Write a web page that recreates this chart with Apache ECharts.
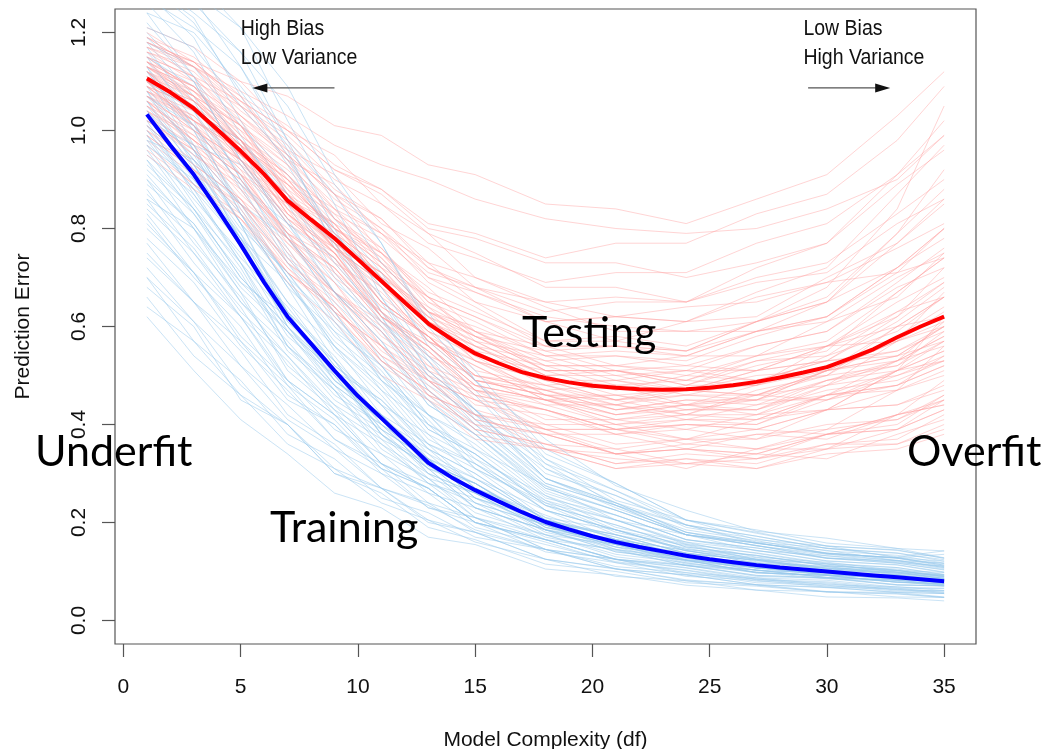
<!DOCTYPE html>
<html>
<head>
<meta charset="utf-8">
<script src="https://cdn.jsdelivr.net/npm/echarts@6/dist/echarts.min.js"></script>
<style>
  html, body { margin: 0; padding: 0; background: #fff; }
  #chart { width: 1047px; height: 749px; }
</style>
</head>
<body>
<div id="chart"></div>
<script>
// Degrees of freedom at which each individual run is recorded
const dfGrid = [1, 3, 5, 7, 9, 11, 13, 15, 18, 21, 24, 27, 30, 33, 35];

// Training error of individual runs (light blue)
const trainRuns = [
  [1.04,0.93,0.76,0.63,0.50,0.42,0.32,0.28,0.19,0.165,0.13,0.112,0.10,0.09,0.08],
  [0.88,0.75,0.64,0.49,0.42,0.32,0.27,0.20,0.165,0.125,0.112,0.092,0.087,0.073,0.07],
  [1.22,1.11,0.93,0.79,0.64,0.54,0.42,0.36,0.25,0.215,0.165,0.148,0.127,0.117,0.104],
  [0.96,0.83,0.71,0.55,0.47,0.36,0.30,0.23,0.185,0.145,0.123,0.098,0.092,0.078,0.075],
  [1.12,1.01,0.84,0.70,0.56,0.47,0.36,0.31,0.21,0.185,0.145,0.128,0.107,0.102,0.09],
  [0.70,0.57,0.49,0.38,0.33,0.25,0.22,0.17,0.145,0.105,0.093,0.073,0.067,0.058,0.055],
  [1.30,1.23,1.07,0.93,0.77,0.65,0.51,0.43,0.30,0.255,0.195,0.172,0.147,0.137,0.124],
  [1.00,0.88,0.77,0.61,0.53,0.41,0.35,0.27,0.215,0.165,0.143,0.117,0.107,0.093,0.086],
  [0.82,0.70,0.60,0.46,0.40,0.30,0.26,0.19,0.155,0.12,0.103,0.083,0.077,0.063,0.06],
  [1.15,1.02,0.83,0.68,0.53,0.44,0.33,0.28,0.195,0.165,0.13,0.118,0.098,0.092,0.084],
  [0.93,0.84,0.70,0.60,0.49,0.42,0.33,0.29,0.205,0.175,0.137,0.123,0.107,0.102,0.089],
  [1.08,0.93,0.79,0.61,0.51,0.38,0.31,0.23,0.185,0.14,0.123,0.098,0.092,0.078,0.076],
  [0.62,0.51,0.41,0.34,0.26,0.23,0.17,0.155,0.105,0.093,0.072,0.062,0.048,0.046,0.04],
  [1.18,1.07,0.90,0.76,0.62,0.52,0.40,0.34,0.24,0.205,0.16,0.143,0.122,0.113,0.098],
  [0.99,0.85,0.72,0.56,0.48,0.37,0.32,0.24,0.195,0.15,0.128,0.102,0.097,0.083,0.08],
  [1.26,1.16,0.99,0.85,0.70,0.59,0.46,0.39,0.27,0.225,0.175,0.158,0.137,0.128,0.135],
  [0.85,0.76,0.63,0.54,0.44,0.38,0.29,0.26,0.185,0.165,0.127,0.113,0.097,0.093,0.083],
  [1.06,0.92,0.78,0.60,0.50,0.38,0.32,0.24,0.195,0.145,0.128,0.102,0.097,0.082,0.079],
  [1.10,1.00,0.85,0.73,0.60,0.51,0.39,0.34,0.235,0.195,0.15,0.133,0.112,0.103,0.088],
  [0.77,0.65,0.55,0.42,0.36,0.27,0.24,0.18,0.145,0.11,0.098,0.077,0.072,0.06,0.058],
  [1.28,1.19,1.02,0.87,0.71,0.60,0.47,0.40,0.28,0.235,0.185,0.163,0.137,0.128,0.113],
  [0.97,0.84,0.73,0.58,0.50,0.39,0.33,0.25,0.205,0.155,0.133,0.107,0.102,0.087,0.084],
  [1.13,0.97,0.81,0.62,0.51,0.38,0.31,0.23,0.185,0.14,0.123,0.097,0.092,0.078,0.072],
  [0.90,0.81,0.67,0.57,0.46,0.40,0.31,0.28,0.20,0.175,0.137,0.123,0.102,0.097,0.086],
  [1.02,0.87,0.73,0.56,0.47,0.35,0.29,0.21,0.175,0.135,0.118,0.097,0.092,0.078,0.075],
  [1.20,1.10,0.94,0.81,0.67,0.57,0.44,0.38,0.26,0.215,0.165,0.148,0.127,0.117,0.103],
  [0.80,0.71,0.58,0.49,0.39,0.34,0.26,0.23,0.165,0.145,0.112,0.103,0.087,0.082,0.073],
  [1.07,0.97,0.81,0.69,0.56,0.48,0.37,0.32,0.225,0.185,0.145,0.133,0.112,0.102,0.09],
  [0.94,0.80,0.67,0.51,0.43,0.32,0.27,0.20,0.165,0.125,0.108,0.087,0.082,0.068,0.066],
  [1.16,1.06,0.90,0.78,0.65,0.56,0.44,0.38,0.27,0.225,0.175,0.153,0.127,0.122,0.108],
  [1.01,0.89,0.77,0.60,0.51,0.39,0.33,0.25,0.205,0.155,0.133,0.107,0.102,0.086,0.081],
  [0.74,0.65,0.52,0.44,0.35,0.30,0.23,0.21,0.145,0.125,0.097,0.087,0.073,0.069,0.061],
  [1.11,0.96,0.81,0.63,0.53,0.40,0.33,0.25,0.195,0.15,0.133,0.107,0.10,0.086,0.081],
  [0.91,0.80,0.65,0.54,0.43,0.37,0.28,0.25,0.175,0.155,0.117,0.103,0.088,0.082,0.072],
  [1.24,1.11,0.97,0.78,0.67,0.53,0.45,0.35,0.275,0.205,0.175,0.142,0.132,0.118,0.111],
  [1.05,0.94,0.78,0.65,0.52,0.44,0.34,0.29,0.205,0.175,0.137,0.123,0.103,0.097,0.085],
  [0.86,0.73,0.62,0.48,0.41,0.31,0.27,0.20,0.165,0.125,0.113,0.092,0.087,0.073,0.071],
  [1.14,1.04,0.88,0.75,0.61,0.52,0.40,0.35,0.245,0.205,0.155,0.138,0.117,0.108,0.094],
  [0.98,0.86,0.75,0.59,0.51,0.40,0.34,0.26,0.205,0.16,0.138,0.112,0.103,0.088,0.083],
  [1.09,0.96,0.77,0.63,0.49,0.41,0.30,0.26,0.185,0.155,0.12,0.108,0.093,0.087,0.077],
  [1.32,1.28,1.21,1.02,0.85,0.66,0.53,0.41,0.31,0.24,0.195,0.16,0.148,0.13,0.142],
  [1.25,1.27,1.13,0.96,0.76,0.62,0.47,0.39,0.275,0.225,0.175,0.158,0.138,0.127,0.116],
  [0.68,0.60,0.45,0.40,0.30,0.27,0.20,0.18,0.125,0.105,0.083,0.072,0.058,0.054,0.047],
  [1.31,1.24,1.16,0.98,0.80,0.63,0.50,0.40,0.29,0.23,0.18,0.152,0.136,0.122,0.11],
  [1.18,1.13,1.01,0.91,0.79,0.70,0.57,0.49,0.34,0.28,0.205,0.185,0.158,0.147,0.128],
  [1.10,1.04,0.98,0.86,0.77,0.63,0.54,0.43,0.33,0.245,0.205,0.165,0.152,0.128,0.121],
  [1.24,1.20,1.09,0.97,0.82,0.71,0.56,0.47,0.32,0.265,0.205,0.178,0.152,0.143,0.127],
  [1.02,0.97,0.93,0.81,0.74,0.61,0.53,0.42,0.32,0.235,0.195,0.157,0.143,0.122,0.117],
  [1.15,1.09,0.98,0.87,0.73,0.62,0.49,0.41,0.28,0.235,0.175,0.153,0.132,0.123,0.108],
  [0.98,0.94,0.85,0.78,0.67,0.59,0.48,0.42,0.29,0.24,0.18,0.158,0.137,0.128,0.113],
  [1.27,1.21,1.13,0.98,0.87,0.73,0.63,0.49,0.37,0.275,0.225,0.182,0.168,0.147,0.142],
  [1.07,1.01,0.89,0.81,0.69,0.61,0.50,0.43,0.29,0.235,0.175,0.153,0.128,0.12,0.106],
  [1.00,0.89,0.79,0.65,0.56,0.44,0.38,0.29,0.225,0.165,0.143,0.117,0.11,0.094,0.09],
  [0.92,0.83,0.69,0.59,0.47,0.40,0.31,0.27,0.185,0.155,0.122,0.107,0.092,0.086,0.076],
  [1.06,0.94,0.83,0.68,0.59,0.47,0.40,0.31,0.235,0.175,0.148,0.12,0.11,0.096,0.092],
  [0.87,0.78,0.65,0.56,0.45,0.39,0.30,0.26,0.18,0.15,0.115,0.103,0.088,0.083,0.073],
  [1.13,1.01,0.89,0.73,0.63,0.50,0.42,0.32,0.245,0.185,0.155,0.125,0.116,0.099,0.094],
  [0.95,0.87,0.74,0.64,0.52,0.45,0.35,0.30,0.205,0.17,0.132,0.115,0.098,0.092,0.081],
  [1.03,0.90,0.78,0.63,0.54,0.42,0.36,0.27,0.21,0.155,0.133,0.107,0.10,0.086,0.083],
  [0.84,0.75,0.62,0.53,0.42,0.36,0.28,0.24,0.17,0.143,0.112,0.099,0.085,0.08,0.07],
  [1.17,1.04,0.91,0.74,0.63,0.49,0.41,0.31,0.24,0.18,0.153,0.124,0.115,0.098,0.093],
  [0.89,0.81,0.68,0.59,0.48,0.41,0.32,0.28,0.195,0.16,0.124,0.11,0.094,0.088,0.077],
  [1.08,0.96,0.85,0.70,0.61,0.49,0.42,0.33,0.255,0.19,0.16,0.129,0.119,0.102,0.098],
  [0.99,0.88,0.73,0.62,0.49,0.42,0.32,0.28,0.19,0.16,0.123,0.109,0.093,0.087,0.076],
  [0.72,0.61,0.52,0.41,0.35,0.27,0.235,0.185,0.145,0.105,0.093,0.073,0.068,0.057,0.055],
  [0.78,0.69,0.56,0.47,0.37,0.32,0.24,0.21,0.145,0.125,0.094,0.085,0.07,0.066,0.057],
  [0.66,0.54,0.46,0.36,0.31,0.24,0.205,0.16,0.125,0.09,0.081,0.062,0.059,0.048,0.047],
  [0.83,0.71,0.57,0.48,0.37,0.31,0.23,0.20,0.14,0.118,0.09,0.082,0.068,0.064,0.055],
  [0.75,0.65,0.57,0.45,0.40,0.31,0.27,0.20,0.16,0.118,0.102,0.08,0.075,0.062,0.061],
  [0.70,0.61,0.48,0.40,0.30,0.26,0.19,0.165,0.115,0.10,0.077,0.07,0.058,0.055,0.047],
  [0.81,0.71,0.62,0.49,0.42,0.32,0.28,0.21,0.165,0.124,0.107,0.084,0.079,0.066,0.065],
  [0.64,0.57,0.46,0.40,0.31,0.27,0.205,0.18,0.125,0.106,0.081,0.073,0.059,0.057,0.048],
  [1.29,1.26,1.16,1.05,0.89,0.77,0.61,0.51,0.35,0.28,0.205,0.18,0.152,0.144,0.127],
  [1.33,1.31,1.21,1.09,0.91,0.77,0.60,0.49,0.33,0.265,0.195,0.172,0.147,0.138,0.121],
  [1.21,1.17,1.05,0.94,0.79,0.68,0.54,0.46,0.31,0.255,0.19,0.167,0.142,0.133,0.117],
  [1.30,1.22,1.08,0.95,0.78,0.66,0.51,0.43,0.29,0.24,0.18,0.159,0.135,0.127,0.111],
  [0.94,0.84,0.70,0.60,0.48,0.41,0.315,0.27,0.19,0.158,0.124,0.11,0.093,0.088,0.076],
  [1.12,1.00,0.83,0.70,0.55,0.46,0.35,0.30,0.205,0.17,0.13,0.116,0.097,0.093,0.08],
  [1.04,0.95,0.81,0.71,0.58,0.50,0.39,0.34,0.235,0.195,0.15,0.132,0.111,0.105,0.091],
  [0.90,0.77,0.66,0.52,0.44,0.34,0.29,0.22,0.175,0.13,0.113,0.09,0.086,0.072,0.071],
  [1.19,1.10,0.94,0.82,0.67,0.57,0.45,0.38,0.265,0.215,0.165,0.143,0.121,0.114,0.099],
  [0.97,0.90,0.78,0.69,0.57,0.49,0.38,0.33,0.225,0.185,0.142,0.125,0.105,0.099,0.086],
  [1.01,0.93,0.80,0.71,0.59,0.52,0.42,0.37,0.255,0.205,0.157,0.137,0.115,0.108,0.093],
  [0.86,0.80,0.69,0.62,0.51,0.45,0.36,0.32,0.225,0.185,0.142,0.125,0.105,0.099,0.086]
];

// Test error of individual runs (light red)
const testRuns = [
  [1.12,1.06,0.97,0.89,0.78,0.71,0.61,0.56,0.50,0.46,0.47,0.46,0.51,0.54,0.60],
  [1.05,0.98,0.91,0.79,0.72,0.61,0.54,0.46,0.43,0.39,0.40,0.39,0.43,0.44,0.48],
  [1.18,1.14,1.06,1.00,0.92,0.87,0.79,0.75,0.68,0.68,0.65,0.69,0.71,0.81,0.86],
  [1.09,1.01,0.94,0.81,0.73,0.62,0.56,0.48,0.45,0.40,0.41,0.40,0.45,0.48,0.52],
  [1.14,1.10,1.01,0.94,0.85,0.79,0.69,0.64,0.56,0.56,0.54,0.59,0.62,0.72,0.78],
  [0.98,0.91,0.85,0.73,0.66,0.55,0.49,0.41,0.38,0.34,0.35,0.34,0.38,0.39,0.43],
  [1.21,1.17,1.10,1.07,1.01,0.99,0.93,0.91,0.85,0.84,0.81,0.86,0.91,1.03,1.12],
  [1.10,1.04,0.98,0.85,0.79,0.68,0.61,0.53,0.49,0.45,0.48,0.48,0.54,0.59,0.66],
  [1.07,1.02,0.92,0.85,0.75,0.68,0.57,0.52,0.45,0.46,0.43,0.45,0.45,0.51,0.53],
  [1.13,1.07,1.01,0.89,0.83,0.72,0.66,0.58,0.55,0.51,0.52,0.51,0.56,0.60,0.66],
  [1.03,0.97,0.86,0.78,0.67,0.61,0.51,0.47,0.40,0.40,0.37,0.39,0.38,0.42,0.44],
  [1.16,1.10,1.05,0.94,0.89,0.79,0.73,0.65,0.61,0.57,0.61,0.62,0.70,0.77,0.86],
  [1.11,1.05,0.94,0.86,0.76,0.69,0.58,0.53,0.46,0.45,0.42,0.46,0.48,0.57,0.63],
  [1.08,1.02,0.97,0.86,0.81,0.69,0.62,0.54,0.51,0.47,0.50,0.49,0.53,0.54,0.57],
  [1.15,1.11,1.02,0.95,0.84,0.76,0.65,0.59,0.51,0.51,0.48,0.52,0.55,0.67,0.74],
  [1.01,0.93,0.86,0.74,0.67,0.57,0.51,0.43,0.39,0.34,0.35,0.33,0.36,0.36,0.39],
  [1.12,1.08,0.99,0.92,0.83,0.78,0.70,0.67,0.61,0.62,0.61,0.66,0.69,0.76,0.81],
  [1.06,0.98,0.91,0.78,0.71,0.60,0.53,0.45,0.43,0.39,0.41,0.41,0.46,0.48,0.54],
  [1.19,1.15,1.07,1.01,0.93,0.88,0.80,0.78,0.73,0.73,0.70,0.73,0.77,0.89,0.96],
  [1.09,1.02,0.96,0.83,0.76,0.65,0.58,0.49,0.46,0.42,0.43,0.43,0.49,0.53,0.58],
  [1.13,1.07,0.96,0.87,0.76,0.69,0.59,0.54,0.46,0.46,0.44,0.48,0.51,0.60,0.62],
  [0.96,0.89,0.83,0.71,0.64,0.53,0.47,0.39,0.36,0.32,0.33,0.31,0.34,0.35,0.38],
  [1.10,1.06,0.97,0.90,0.80,0.73,0.63,0.58,0.51,0.51,0.48,0.53,0.54,0.63,0.69],
  [1.17,1.11,1.06,0.96,0.91,0.81,0.76,0.68,0.65,0.62,0.64,0.65,0.69,0.71,0.74],
  [1.04,0.99,0.88,0.80,0.70,0.63,0.54,0.50,0.44,0.44,0.42,0.47,0.50,0.60,0.66],
  [1.12,1.04,0.97,0.84,0.77,0.66,0.59,0.51,0.48,0.44,0.47,0.46,0.50,0.52,0.57],
  [1.08,1.03,0.93,0.86,0.77,0.71,0.62,0.58,0.52,0.52,0.51,0.56,0.59,0.69,0.76],
  [1.14,1.07,1.01,0.88,0.81,0.70,0.63,0.55,0.52,0.48,0.49,0.48,0.52,0.55,0.60],
  [1.02,0.96,0.85,0.77,0.67,0.60,0.50,0.46,0.39,0.39,0.36,0.38,0.37,0.42,0.45],
  [1.16,1.13,1.05,0.99,0.90,0.85,0.77,0.74,0.69,0.71,0.71,0.77,0.81,0.91,0.99],
  [1.11,1.04,0.98,0.86,0.80,0.69,0.62,0.53,0.49,0.45,0.46,0.45,0.49,0.51,0.55],
  [1.06,1.01,0.91,0.83,0.73,0.67,0.57,0.53,0.47,0.48,0.47,0.51,0.53,0.62,0.69],
  [1.13,1.06,1.00,0.87,0.81,0.70,0.64,0.56,0.53,0.49,0.51,0.51,0.56,0.57,0.61],
  [1.00,0.94,0.83,0.74,0.63,0.56,0.46,0.42,0.36,0.35,0.32,0.34,0.33,0.38,0.41],
  [1.09,1.05,0.96,0.89,0.80,0.74,0.65,0.61,0.54,0.54,0.52,0.56,0.59,0.68,0.72],
  [1.15,1.08,1.02,0.90,0.84,0.73,0.66,0.57,0.54,0.50,0.51,0.49,0.53,0.55,0.59],
  [1.07,1.00,0.94,0.82,0.76,0.65,0.58,0.50,0.47,0.43,0.44,0.42,0.46,0.47,0.51],
  [1.12,1.07,0.98,0.91,0.82,0.76,0.66,0.62,0.55,0.56,0.55,0.61,0.66,0.79,0.88],
  [1.04,0.96,0.90,0.79,0.74,0.64,0.58,0.50,0.47,0.43,0.45,0.45,0.51,0.53,0.58],
  [1.10,1.05,0.95,0.87,0.77,0.70,0.60,0.56,0.49,0.49,0.46,0.49,0.50,0.58,0.64],
  [1.19,1.13,1.08,1.03,0.97,0.93,0.90,0.86,0.82,0.80,0.79,0.80,0.84,0.90,0.99],
  [0.99,0.92,0.82,0.72,0.62,0.53,0.45,0.40,0.35,0.33,0.32,0.33,0.35,0.39,0.45],
  [1.14,1.09,1.03,0.95,0.87,0.80,0.72,0.67,0.62,0.60,0.59,0.61,0.68,0.84,1.05],
  [1.02,0.96,0.85,0.76,0.63,0.56,0.46,0.42,0.35,0.34,0.31,0.35,0.35,0.42,0.44],
  [1.15,1.08,1.01,0.87,0.78,0.65,0.58,0.49,0.46,0.42,0.44,0.45,0.51,0.57,0.67],
  [1.08,1.01,0.89,0.79,0.67,0.59,0.49,0.45,0.38,0.38,0.35,0.38,0.39,0.47,0.50],
  [1.20,1.14,1.10,1.00,0.95,0.85,0.79,0.70,0.64,0.59,0.59,0.59,0.65,0.72,0.80],
  [1.11,1.07,0.98,0.91,0.81,0.75,0.66,0.62,0.56,0.56,0.55,0.61,0.65,0.79,0.92],
  [0.97,0.89,0.82,0.69,0.61,0.50,0.45,0.37,0.35,0.31,0.33,0.32,0.36,0.37,0.42],
  [1.13,1.08,0.98,0.90,0.79,0.72,0.61,0.56,0.49,0.48,0.44,0.46,0.45,0.50,0.53],
  [1.06,0.99,0.93,0.81,0.75,0.64,0.58,0.50,0.48,0.45,0.47,0.48,0.56,0.62,0.72],
  [1.17,1.14,1.06,1.00,0.92,0.88,0.81,0.79,0.74,0.77,0.77,0.83,0.87,0.98,1.09],
  [1.09,1.02,0.96,0.83,0.75,0.63,0.56,0.47,0.43,0.39,0.40,0.39,0.43,0.44,0.47],
  [1.14,1.09,0.98,0.88,0.76,0.68,0.57,0.52,0.45,0.44,0.41,0.44,0.46,0.53,0.56],
  [1.03,0.95,0.89,0.78,0.72,0.62,0.57,0.49,0.47,0.44,0.46,0.46,0.51,0.54,0.60],
  [1.18,1.13,1.03,0.94,0.82,0.74,0.63,0.58,0.51,0.51,0.49,0.53,0.56,0.65,0.70],
  [1.10,1.01,0.92,0.78,0.69,0.56,0.49,0.41,0.38,0.34,0.36,0.35,0.39,0.41,0.46],
  [1.05,1.00,0.91,0.85,0.76,0.71,0.63,0.60,0.54,0.55,0.54,0.59,0.62,0.71,0.80],
  [1.12,1.05,0.98,0.85,0.77,0.65,0.58,0.49,0.46,0.43,0.45,0.44,0.49,0.52,0.59],
  [0.95,0.88,0.82,0.71,0.64,0.54,0.49,0.42,0.40,0.36,0.37,0.35,0.38,0.39,0.43],
  [1.16,1.12,1.03,0.96,0.86,0.80,0.70,0.65,0.57,0.57,0.55,0.59,0.61,0.70,0.75],
  [1.07,1.00,0.94,0.82,0.74,0.62,0.55,0.47,0.45,0.41,0.42,0.42,0.48,0.53,0.61],
  [1.13,1.09,1.00,0.93,0.84,0.79,0.71,0.68,0.63,0.65,0.65,0.72,0.77,0.91,1.02],
  [1.01,0.93,0.86,0.73,0.65,0.54,0.48,0.40,0.38,0.34,0.35,0.34,0.38,0.40,0.46],
  [1.10,1.06,0.97,0.90,0.79,0.72,0.62,0.57,0.50,0.50,0.47,0.50,0.51,0.57,0.60],
  [1.19,1.13,1.07,0.95,0.87,0.75,0.68,0.59,0.56,0.52,0.54,0.54,0.61,0.66,0.75],
  [1.04,0.98,0.87,0.78,0.66,0.59,0.49,0.45,0.39,0.39,0.37,0.41,0.43,0.51,0.55],
  [1.12,1.04,0.97,0.83,0.75,0.63,0.56,0.48,0.45,0.41,0.43,0.43,0.48,0.50,0.54],
  [1.08,1.04,0.95,0.89,0.80,0.75,0.67,0.63,0.57,0.58,0.56,0.61,0.65,0.77,0.85],
  [0.99,0.92,0.85,0.72,0.64,0.53,0.47,0.39,0.36,0.32,0.34,0.33,0.38,0.42,0.49],
  [1.15,1.11,1.01,0.93,0.82,0.75,0.64,0.59,0.52,0.52,0.50,0.54,0.56,0.63,0.66],
  [1.06,0.98,0.91,0.79,0.72,0.61,0.55,0.47,0.44,0.40,0.42,0.41,0.46,0.48,0.52],
  [1.11,1.05,0.94,0.84,0.71,0.63,0.52,0.48,0.41,0.41,0.39,0.42,0.43,0.51,0.57],
  [1.17,1.13,1.04,0.97,0.87,0.82,0.73,0.70,0.65,0.66,0.65,0.70,0.73,0.83,0.90],
  [1.02,0.95,0.88,0.75,0.67,0.56,0.50,0.42,0.39,0.35,0.37,0.37,0.43,0.47,0.56],
  [1.09,1.05,0.95,0.87,0.76,0.69,0.59,0.55,0.48,0.49,0.47,0.51,0.53,0.61,0.68],
  [1.14,1.06,0.98,0.84,0.75,0.62,0.55,0.46,0.43,0.38,0.39,0.37,0.40,0.41,0.45],
  [1.07,1.03,0.94,0.87,0.77,0.71,0.61,0.57,0.50,0.51,0.49,0.54,0.57,0.67,0.74],
  [1.00,0.92,0.84,0.71,0.63,0.52,0.46,0.38,0.35,0.31,0.32,0.31,0.35,0.36,0.40],
  [1.13,1.09,0.99,0.91,0.80,0.73,0.63,0.59,0.53,0.54,0.53,0.58,0.62,0.72,0.80],
  [1.05,0.97,0.90,0.77,0.69,0.58,0.52,0.44,0.42,0.38,0.40,0.40,0.46,0.51,0.62],
  [1.18,1.14,1.05,0.98,0.88,0.82,0.72,0.68,0.61,0.62,0.61,0.67,0.72,0.87,0.97],
  [1.10,1.02,0.95,0.82,0.74,0.62,0.56,0.48,0.45,0.42,0.44,0.43,0.47,0.49,0.53]
];

// Averages over all runs, at every df
const dfSteps = [1,2,3,4,5,6,7,8,9,10,11,12,13,14,15,16,17,18,19,20,21,22,23,24,25,26,27,28,29,30,31,32,33,34,35];
const trainMean = [1.033,0.970,0.910,0.840,0.767,0.690,0.620,0.565,0.510,0.458,0.413,0.368,0.322,0.292,0.266,0.243,0.221,0.201,0.186,0.172,0.160,0.150,0.141,0.132,0.125,0.119,0.113,0.108,0.104,0.100,0.096,0.092,0.088,0.084,0.080];
const testMean = [1.106,1.078,1.045,1.002,0.958,0.911,0.857,0.818,0.780,0.737,0.693,0.649,0.606,0.574,0.545,0.525,0.507,0.495,0.486,0.479,0.475,0.472,0.471,0.472,0.475,0.480,0.487,0.496,0.506,0.517,0.535,0.554,0.578,0.600,0.620];

// Axis ticks
const xTicks = [0, 5, 10, 15, 20, 25, 30, 35];
const yTicks = [0.0, 0.2, 0.4, 0.6, 0.8, 1.0, 1.2];

// Axis ranges padded by 4% like base R plots
const X_MIN = -0.36, X_MAX = 36.36;
const Y_MIN = -0.048, Y_MAX = 1.248;

const AXIS_FONT = 'Liberation Sans, Arial, Helvetica, sans-serif';
const RUN_BLUE = 'rgba(150,200,235,0.5)';
const RUN_RED = 'rgba(255,160,160,0.45)';

function runSeries(vals, color) {
  return {
    type: 'line',
    data: dfGrid.map((x, j) => [x, vals[j]]),
    symbol: 'none',
    silent: true,
    animation: false,
    z: 2,
    lineStyle: { color: color, width: 1 }
  };
}

const series = [];
const nRuns = Math.max(trainRuns.length, testRuns.length);
for (let i = 0; i < nRuns; i++) {
  if (trainRuns[i]) series.push(runSeries(trainRuns[i], RUN_BLUE));
  if (testRuns[i]) series.push(runSeries(testRuns[i], RUN_RED));
}
series.push({
  type: 'line', name: 'Training',
  data: dfSteps.map((x, j) => [x, trainMean[j]]),
  symbol: 'none', silent: true, animation: false, z: 5,
  lineStyle: { color: '#0000ff', width: 4 }
});
series.push({
  type: 'line', name: 'Testing',
  data: dfSteps.map((x, j) => [x, testMean[j]]),
  symbol: 'none', silent: true, animation: false, z: 5,
  lineStyle: { color: '#ff0000', width: 4 }
});

const chart = echarts.init(document.getElementById('chart'), null, { renderer: 'canvas' });

chart.setOption({
  animation: false,
  backgroundColor: '#ffffff',
  grid: {
    left: 115, top: 9, width: 861, height: 635,
    containLabel: false, outerBoundsMode: 'none',
    show: true, borderColor: '#555555', borderWidth: 1.2,
    backgroundColor: 'transparent'
  },
  xAxis: {
    type: 'value', min: X_MIN, max: X_MAX,
    axisLine: { show: false, onZero: false },
    splitLine: { show: false },
    axisTick: { show: true, length: 13, customValues: xTicks, lineStyle: { color: '#555555', width: 1.2 } },
    axisLabel: { customValues: xTicks, fontFamily: AXIS_FONT, fontSize: 21, color: '#111', margin: 33 },
    name: 'Model Complexity (df)', nameLocation: 'middle', nameGap: 86,
    nameTextStyle: { fontFamily: AXIS_FONT, fontSize: 21, color: '#111' }
  },
  yAxis: {
    type: 'value', min: Y_MIN, max: Y_MAX,
    axisLine: { show: false, onZero: false },
    splitLine: { show: false },
    axisTick: { show: true, length: 13, customValues: yTicks, lineStyle: { color: '#555555', width: 1.2 } },
    axisLabel: {
      customValues: yTicks, rotate: 90, fontFamily: AXIS_FONT, fontSize: 21, color: '#111', margin: 25,
      formatter: v => v.toFixed(1)
    },
    name: 'Prediction Error', nameLocation: 'middle', nameGap: 81,
    nameTextStyle: { fontFamily: AXIS_FONT, fontSize: 21, color: '#111' }
  },
  series: series
});

// Annotations placed in data coordinates
const noteText = ['High Bias', 'Low Variance', 'Low Bias', 'High Variance'];
const noteX = [5, 5, 29, 29];
const noteY = [1.208, 1.147, 1.208, 1.147];
const arrowFrom = [[9, 1.087], [29.2, 1.087]];
const arrowTo = [[5.5, 1.087], [32.7, 1.087]];

const px = p => chart.convertToPixel({ gridIndex: 0 }, p);
const graphics = [];
noteText.forEach((t, i) => {
  const p = px([noteX[i], noteY[i]]);
  graphics.push({
    type: 'text', silent: true, z: 20,
    x: p[0], y: p[1], scaleY: 1.1,
    style: { text: t, x: 0, y: 0, align: 'left', verticalAlign: 'middle',
             font: '19.5px ' + AXIS_FONT, fill: '#111' }
  });
});
arrowFrom.forEach((a, i) => {
  const s = px(a), e = px(arrowTo[i]);
  const dir = Math.sign(e[0] - s[0]);
  graphics.push({
    type: 'line', silent: true, z: 20,
    shape: { x1: s[0], y1: s[1], x2: e[0] - dir * 10, y2: e[1] },
    style: { stroke: '#555', lineWidth: 1.3 }
  });
  graphics.push({
    type: 'polygon', silent: true, z: 21,
    shape: { points: [[e[0], e[1]], [e[0] - dir * 15, e[1] - 4.5], [e[0] - dir * 15, e[1] + 4.5]] },
    style: { fill: '#111' }
  });
});

// Large region labels
const bigLabels = [
  { text: 'Underfit', x: 35, y: 452 },
  { text: 'Overfit', x: 907, y: 452 },
  { text: 'Testing', x: 522, y: 333 },
  { text: 'Training', x: 270, y: 528 }
];
bigLabels.forEach(l => {
  graphics.push({
    type: 'text', silent: true, z: 30,
    style: { text: l.text, x: l.x, y: l.y, align: 'left', verticalAlign: 'middle',
             font: '43px Lato', fill: '#000' }
  });
});

chart.setOption({ graphic: graphics });
</script>
</body>
</html>
